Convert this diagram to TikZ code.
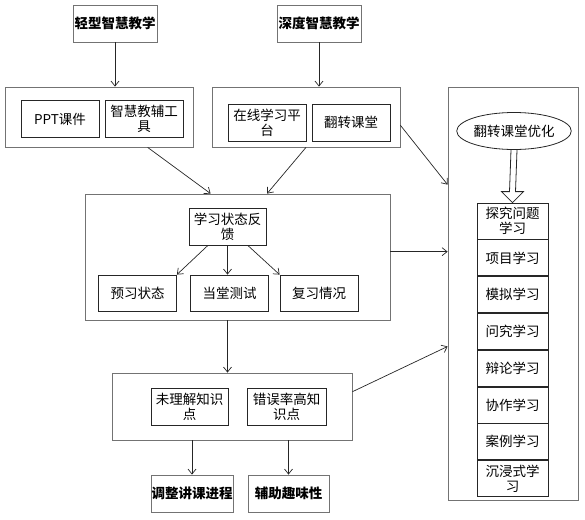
\documentclass[tikz,border=0pt]{standalone}
\usepackage{fontspec}
\setmainfont{Noto Sans CJK SC}
\usetikzlibrary{positioning}
\usetikzlibrary{arrows.meta}
\usetikzlibrary{calc,shapes.geometric}
\newcommand\bodyfont{\fontsize{13.5}{15}\selectfont}

\begin{document}
\begin{tikzpicture}[x=1pt,y=-1pt,>={Straight Barb[length=5pt,width=8pt]},
	every node/.style={inner sep=0pt,align=center,font=\bodyfont},
	frame/.style={draw=black!55,line width=0.8pt},
	cell/.style={draw=black!85,line width=0.8pt,minimum width=78pt,minimum height=37pt},
	head/.style={frame,minimum width=84pt,minimum height=37pt,font=\bodyfont\bfseries},
	stack/.style={cell,minimum width=71pt,minimum height=36pt},
	link/.style={->,draw=black!85,line width=0.7pt}]
	%% page size
	\useasboundingbox (0,0) rectangle (585,519);

	% two kinds of teaching
	\node[head] (light) at (115,23.5) {轻型智慧教学};
	\node[head] (deep) at (319,23.5) {深度智慧教学};

	\node[frame,minimum width=188pt,minimum height=60pt] (tools) at (99,117) {};
	\node[cell] (ppt) at (60,119) {PPT课件};
	\node[cell] (aid) at (144,119) {智慧教辅工\\具};

	\node[frame,minimum width=188pt,minimum height=60pt] (online) at (306,117) {};
	\node[cell] (platform) at (267,122.5) {在线学习平\\台};
	\node[cell] (flip) at (351,122.5) {翻转课堂};

	% feedback block
	\node[frame,minimum width=305pt,minimum height=126pt] (state) at (237.5,257) {};
	\node[cell,minimum width=77pt] (feedback) at (227.5,226.5) {学习状态反\\馈};
	\node[cell,minimum height=36pt] (preview) at (137.5,293) {预习状态};
	\node[cell,minimum height=36pt] (test) at (229.5,293) {当堂测试};
	\node[cell,minimum height=36pt] (review) at (319,293) {复习情况};

	% weak points
	\node[frame,minimum width=240pt,minimum height=67pt] (weak) at (232,406.5) {};
	\node[cell,minimum width=77pt] (unknown) at (189.5,406.5) {未理解知识\\点};
	\node[cell,minimum width=79pt] (error) at (286.5,406.5) {错误率高知\\识点};
	\node[head,minimum width=82pt] (pace) at (192,493.5) {调整讲课进程};
	\node[head,minimum width=81pt] (fun) at (288.5,493.5) {辅助趣味性};

	% flipped classroom column
	\node[frame,minimum width=130pt,minimum height=413pt] (optim) at (513,293.5) {};
	\node[ellipse,cell,minimum width=107pt,minimum height=37pt] (goal) at (514,131) {翻转课堂优化};
	\node[stack] (s1) at (512.5,221) {探究问题\\学习};
	\node[stack,below=0pt of s1] (s2) {项目学习};
	\node[stack,below=0pt of s2] (s3) {模拟学习};
	\node[stack,below=0pt of s3] (s4) {问究学习};
	\node[stack,below=0pt of s4] (s5) {辩论学习};
	\node[stack,below=0pt of s5] (s6) {协作学习};
	\node[stack,below=0pt of s6] (s7) {案例学习};
	\node[stack,below=0pt of s7] (s8) {沉浸式学\\习};

	% hollow arrow
	\draw[cell] ($(goal.south)+(-3,0)$) -- ($(s1.north)+(-3,-11)$) -- ($(s1.north)+(-11,-11)$)
		-- (s1.north) -- ($(s1.north)+(11,-11)$) -- ($(s1.north)+(3,-11)$) -- ($(goal.south)+(3,0)$);

	% arrows
	\draw[link] (light.south) -- (light.south |- tools.north);
	\draw[link] (deep.south) -- (deep.south |- online.north);
	\draw[link] (tools.-32) -- (state.113.6);
	\draw[link] (online.south) -- (state.65);
	\draw[link] (online.-5) -- (optim.121.6);
	\draw[link] (state.2) -- (state.2 -| optim.west);
	\draw[link] (feedback.-136.5) -- (preview.north east);
	\draw[link] (feedback.south) -- (feedback.south |- test.north);
	\draw[link] (feedback.-43.5) -- (review.north west);
	\draw[link] (state.south -| feedback.south) -- (weak.north -| feedback.south);
	\draw[link] (weak.south -| pace.north) -- (pace.north);
	\draw[link] (weak.south -| fun.north) -- (fun.north);
	\draw[link] (weak.7.8) -- (optim.219.5);
\end{tikzpicture}
\end{document}
